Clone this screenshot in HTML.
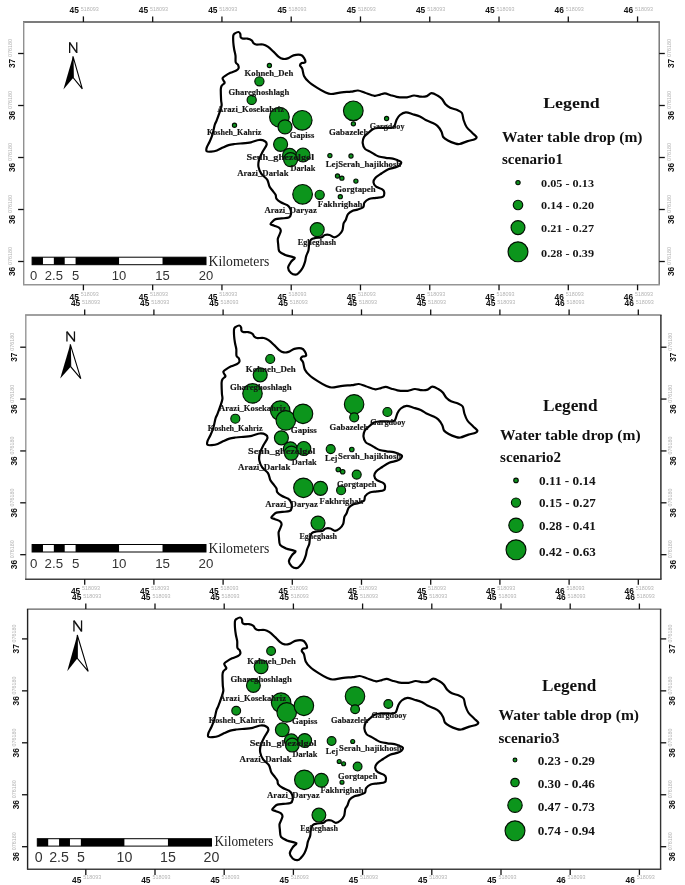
<!DOCTYPE html>
<html><head><meta charset="utf-8"><title>Water table drop scenarios</title>
<style>
html,body{margin:0;padding:0;background:#fff;}
body{width:685px;height:885px;overflow:hidden;}
svg{display:block;filter:blur(0.35px);}
.cl{font-family:"Liberation Sans",sans-serif;font-weight:bold;font-size:8.4px;fill:#111;}
.cg{font-family:"Liberation Sans",sans-serif;font-size:5.4px;fill:#b4b4b4;}
.nn{font-family:"Liberation Sans",sans-serif;font-size:14.4px;fill:#000;}
.sbl{font-family:"Liberation Sans",sans-serif;font-size:13px;fill:#333;}
.km{font-family:"Liberation Serif",serif;font-size:13.7px;fill:#222;}
.ml{font-family:"Liberation Serif",serif;font-weight:bold;font-size:8.6px;fill:#151515;stroke:#151515;stroke-width:0.15px;}
.lg1{font-family:"Liberation Serif",serif;font-weight:bold;font-size:16px;fill:#111;}
.lg2{font-family:"Liberation Serif",serif;font-weight:bold;font-size:14px;fill:#111;}
.lg3{font-family:"Liberation Serif",serif;font-weight:bold;font-size:11.4px;fill:#151515;}
</style></head><body>
<svg width="685" height="885" viewBox="0 0 685 885">
<rect width="685" height="885" fill="#fff"/>
<line x1="23" y1="22" x2="659.9" y2="22" stroke="#505050" stroke-width="1.4"/>
<line x1="23.7" y1="22" x2="23.7" y2="284.7" stroke="#909090" stroke-width="1.4"/>
<line x1="659.2" y1="22" x2="659.2" y2="284.7" stroke="#707070" stroke-width="1.4"/>
<line x1="23" y1="284.7" x2="659.9" y2="284.7" stroke="#959595" stroke-width="1.4"/>
<line x1="83.4" y1="16.4" x2="83.4" y2="22" stroke="#111" stroke-width="1.3"/>
<line x1="83.4" y1="284.7" x2="83.4" y2="290.3" stroke="#111" stroke-width="1.3"/>
<text x="69.6" y="13.3" class="cl">45</text>
<text x="80.8" y="10.8" class="cg">518093</text>
<text x="69.6" y="300" class="cl">45</text>
<text x="80.8" y="296.1" class="cg">518093</text>
<line x1="152.67" y1="16.4" x2="152.67" y2="22" stroke="#111" stroke-width="1.3"/>
<line x1="152.67" y1="284.7" x2="152.67" y2="290.3" stroke="#111" stroke-width="1.3"/>
<text x="138.87" y="13.3" class="cl">45</text>
<text x="150.07" y="10.8" class="cg">518093</text>
<text x="138.87" y="300" class="cl">45</text>
<text x="150.07" y="296.1" class="cg">518093</text>
<line x1="221.94" y1="16.4" x2="221.94" y2="22" stroke="#111" stroke-width="1.3"/>
<line x1="221.94" y1="284.7" x2="221.94" y2="290.3" stroke="#111" stroke-width="1.3"/>
<text x="208.14" y="13.3" class="cl">45</text>
<text x="219.34" y="10.8" class="cg">518093</text>
<text x="208.14" y="300" class="cl">45</text>
<text x="219.34" y="296.1" class="cg">518093</text>
<line x1="291.21" y1="16.4" x2="291.21" y2="22" stroke="#111" stroke-width="1.3"/>
<line x1="291.21" y1="284.7" x2="291.21" y2="290.3" stroke="#111" stroke-width="1.3"/>
<text x="277.41" y="13.3" class="cl">45</text>
<text x="288.61" y="10.8" class="cg">518093</text>
<text x="277.41" y="300" class="cl">45</text>
<text x="288.61" y="296.1" class="cg">518093</text>
<line x1="360.48" y1="16.4" x2="360.48" y2="22" stroke="#111" stroke-width="1.3"/>
<line x1="360.48" y1="284.7" x2="360.48" y2="290.3" stroke="#111" stroke-width="1.3"/>
<text x="346.68" y="13.3" class="cl">45</text>
<text x="357.88" y="10.8" class="cg">518093</text>
<text x="346.68" y="300" class="cl">45</text>
<text x="357.88" y="296.1" class="cg">518093</text>
<line x1="429.75" y1="16.4" x2="429.75" y2="22" stroke="#111" stroke-width="1.3"/>
<line x1="429.75" y1="284.7" x2="429.75" y2="290.3" stroke="#111" stroke-width="1.3"/>
<text x="415.95" y="13.3" class="cl">45</text>
<text x="427.15" y="10.8" class="cg">518093</text>
<text x="415.95" y="300" class="cl">45</text>
<text x="427.15" y="296.1" class="cg">518093</text>
<line x1="499.02" y1="16.4" x2="499.02" y2="22" stroke="#111" stroke-width="1.3"/>
<line x1="499.02" y1="284.7" x2="499.02" y2="290.3" stroke="#111" stroke-width="1.3"/>
<text x="485.22" y="13.3" class="cl">45</text>
<text x="496.42" y="10.8" class="cg">518093</text>
<text x="485.22" y="300" class="cl">45</text>
<text x="496.42" y="296.1" class="cg">518093</text>
<line x1="568.29" y1="16.4" x2="568.29" y2="22" stroke="#111" stroke-width="1.3"/>
<line x1="568.29" y1="284.7" x2="568.29" y2="290.3" stroke="#111" stroke-width="1.3"/>
<text x="554.49" y="13.3" class="cl">46</text>
<text x="565.69" y="10.8" class="cg">518093</text>
<text x="554.49" y="300" class="cl">46</text>
<text x="565.69" y="296.1" class="cg">518093</text>
<line x1="637.56" y1="16.4" x2="637.56" y2="22" stroke="#111" stroke-width="1.3"/>
<line x1="637.56" y1="284.7" x2="637.56" y2="290.3" stroke="#111" stroke-width="1.3"/>
<text x="623.76" y="13.3" class="cl">46</text>
<text x="634.96" y="10.8" class="cg">518093</text>
<text x="623.76" y="300" class="cl">46</text>
<text x="634.96" y="296.1" class="cg">518093</text>
<line x1="18.1" y1="53.5" x2="23.7" y2="53.5" stroke="#111" stroke-width="1.3"/>
<line x1="659.2" y1="53.5" x2="664.8" y2="53.5" stroke="#111" stroke-width="1.3"/>
<g transform="translate(15.3,53.5) rotate(-90)"><text x="-14.6" y="0" class="cl">37</text><text x="-3.6" y="-3.2" class="cg">076180</text></g>
<g transform="translate(673.8,53.5) rotate(-90)"><text x="-14.6" y="0" class="cl">37</text><text x="-3.6" y="-3.2" class="cg">076180</text></g>
<line x1="18.1" y1="105.5" x2="23.7" y2="105.5" stroke="#111" stroke-width="1.3"/>
<line x1="659.2" y1="105.5" x2="664.8" y2="105.5" stroke="#111" stroke-width="1.3"/>
<g transform="translate(15.3,105.5) rotate(-90)"><text x="-14.6" y="0" class="cl">36</text><text x="-3.6" y="-3.2" class="cg">076180</text></g>
<g transform="translate(673.8,105.5) rotate(-90)"><text x="-14.6" y="0" class="cl">36</text><text x="-3.6" y="-3.2" class="cg">076180</text></g>
<line x1="18.1" y1="157.5" x2="23.7" y2="157.5" stroke="#111" stroke-width="1.3"/>
<line x1="659.2" y1="157.5" x2="664.8" y2="157.5" stroke="#111" stroke-width="1.3"/>
<g transform="translate(15.3,157.5) rotate(-90)"><text x="-14.6" y="0" class="cl">36</text><text x="-3.6" y="-3.2" class="cg">076180</text></g>
<g transform="translate(673.8,157.5) rotate(-90)"><text x="-14.6" y="0" class="cl">36</text><text x="-3.6" y="-3.2" class="cg">076180</text></g>
<line x1="18.1" y1="209.5" x2="23.7" y2="209.5" stroke="#111" stroke-width="1.3"/>
<line x1="659.2" y1="209.5" x2="664.8" y2="209.5" stroke="#111" stroke-width="1.3"/>
<g transform="translate(15.3,209.5) rotate(-90)"><text x="-14.6" y="0" class="cl">36</text><text x="-3.6" y="-3.2" class="cg">076180</text></g>
<g transform="translate(673.8,209.5) rotate(-90)"><text x="-14.6" y="0" class="cl">36</text><text x="-3.6" y="-3.2" class="cg">076180</text></g>
<line x1="18.1" y1="261.5" x2="23.7" y2="261.5" stroke="#111" stroke-width="1.3"/>
<line x1="659.2" y1="261.5" x2="664.8" y2="261.5" stroke="#111" stroke-width="1.3"/>
<g transform="translate(15.3,261.5) rotate(-90)"><text x="-14.6" y="0" class="cl">36</text><text x="-3.6" y="-3.2" class="cg">076180</text></g>
<g transform="translate(673.8,261.5) rotate(-90)"><text x="-14.6" y="0" class="cl">36</text><text x="-3.6" y="-3.2" class="cg">076180</text></g>
<g stroke="#111" stroke-width="1.3" stroke-linecap="butt" fill="none">
<line x1="69.65" y1="42.3" x2="69.65" y2="52.9"/>
<line x1="76.75" y1="42.3" x2="76.75" y2="52.9"/>
<line x1="69.65" y1="42.6" x2="76.75" y2="52.6" stroke-width="1.5"/>
</g>
<path d="M73,56.3 L63.4,89.6 L73.3,77.8 Z" fill="#000"/>
<path d="M73,56.3 L82.3,88.9 L73.3,77.8 Z" fill="#fff" stroke="#000" stroke-width="1.1"/>
<rect x="32.1" y="257.2" width="173.9" height="7.5" fill="#fff" stroke="#000" stroke-width="1"/>
<rect x="32.1" y="257.2" width="10.87" height="7.5" fill="#000"/>
<rect x="53.84" y="257.2" width="10.87" height="7.5" fill="#000"/>
<rect x="75.58" y="257.2" width="43.48" height="7.5" fill="#000"/>
<rect x="162.53" y="257.2" width="43.48" height="7.5" fill="#000"/>
<text x="33.6" y="279.9" class="sbl" text-anchor="middle" style="font-size:13px">0</text>
<text x="53.84" y="279.9" class="sbl" text-anchor="middle" style="font-size:13px">2.5</text>
<text x="75.58" y="279.9" class="sbl" text-anchor="middle" style="font-size:13px">5</text>
<text x="119.05" y="279.9" class="sbl" text-anchor="middle" style="font-size:13px">10</text>
<text x="162.53" y="279.9" class="sbl" text-anchor="middle" style="font-size:13px">15</text>
<text x="206" y="279.9" class="sbl" text-anchor="middle" style="font-size:13px">20</text>
<text x="208.6" y="265.6" class="km" textLength="60.7" lengthAdjust="spacingAndGlyphs">Kilometers</text>
<path d="M238.5,32 C239.35,32.08 239.95,32.95 240.3,33.8 C240.65,34.65 240.28,36.53 240.7,37.3 C241.12,38.07 241.84,38.39 242.9,38.6 C243.96,38.81 245.89,38.33 247.3,38.6 C248.71,38.87 250.72,39.6 251.7,40.3 C252.68,41 252.71,42.33 253.4,43 C254.09,43.67 254.46,44.26 256,44.5 C257.54,44.74 261.11,44.15 263,44.5 C264.89,44.85 266.09,45.52 267.8,46.7 C269.51,47.88 272,50.32 273.7,51.9 C275.4,53.48 276.91,55.48 278.4,56.6 C279.89,57.72 281.51,58.61 283,58.9 C284.49,59.19 286.02,58.96 287.7,58.4 C289.38,57.84 291.45,55.96 293.5,55.4 C295.55,54.84 298.82,54.52 300.5,54.9 C302.18,55.28 303.25,56.6 304,57.8 C304.75,59 305.57,61.57 305.2,62.4 C304.83,63.23 302.53,62.52 301.7,63 C300.87,63.48 299.9,64.46 300,65.4 C300.1,66.34 301.66,67.22 302.3,68.9 C302.94,70.58 302.98,73.85 304,75.9 C305.02,77.95 306.64,79.83 308.7,81.7 C310.76,83.57 314.28,85.92 316.9,87.6 C319.52,89.28 322.86,91.18 325.1,92.2 C327.34,93.22 328.24,93.98 330.9,94 C333.56,94.02 338.48,92.67 341.7,92.3 C344.92,91.93 348.39,91.99 351,91.7 C353.61,91.41 355.76,90.32 358,90.5 C360.24,90.68 362.38,91.95 365,92.8 C367.62,93.65 371.97,95.51 374.4,95.8 C376.83,96.09 378.52,94.98 380.2,94.6 C381.88,94.22 383.22,93.3 384.9,93.4 C386.58,93.5 388.83,94.64 390.7,95.2 C392.57,95.76 395.11,96.56 396.6,96.9 C398.09,97.24 398.34,97.24 400,97.3 C401.66,97.36 404.76,97.59 407,97.3 C409.24,97.01 411.76,95.6 414,95.5 C416.24,95.4 418.94,96.6 421,96.7 C423.06,96.8 425.22,96.66 426.9,96.1 C428.58,95.54 429.82,93.3 431.5,93.2 C433.18,93.1 435.72,94.57 437.4,95.5 C439.08,96.43 440.7,97.59 442,99 C443.3,100.41 444.19,102.89 445.5,104.3 C446.81,105.71 448.33,106.87 450.2,107.8 C452.07,108.73 455.33,109.27 457.2,110.1 C459.07,110.93 460.88,111.42 461.9,113 C462.92,114.58 462.85,117.76 463.6,120 C464.35,122.24 465.19,124.94 466.6,127 C468.01,129.06 470.82,131.3 472.4,132.9 C473.98,134.5 476.13,135.98 476.5,137 C476.87,138.02 476.11,138.64 474.7,139.3 C473.29,139.96 470.12,140.35 467.7,141.1 C465.28,141.85 461.65,143.63 459.6,144 C457.55,144.37 456.77,143.96 454.9,143.4 C453.03,142.84 449.77,141.52 447.9,140.5 C446.03,139.48 444.22,138.41 443.2,137 C442.18,135.59 442.43,133.48 441.5,131.7 C440.57,129.92 439,127.39 437.4,125.9 C435.8,124.41 433.37,123.34 431.5,122.4 C429.63,121.46 427.56,120.94 425.7,120 C423.84,119.06 421.96,117.43 419.9,116.5 C417.84,115.57 415.06,114.86 412.8,114.2 C410.54,113.54 407.85,112.27 405.8,112.4 C403.75,112.53 401.47,113.83 400,115 C398.53,116.17 397.53,117.83 396.6,119.7 C395.67,121.57 395.14,125.39 394.2,126.7 C393.26,128.01 392.19,127.71 390.7,127.9 C389.21,128.09 386.77,127.9 384.9,127.9 C383.03,127.9 380.87,127.72 379,127.9 C377.13,128.08 375.06,128.07 373.2,129 C371.34,129.93 368.89,132.39 367.4,133.7 C365.91,135.01 364.65,135.7 363.9,137.2 C363.15,138.7 362.52,141.23 362.7,143.1 C362.88,144.97 363.83,147.54 365,148.9 C366.17,150.26 368.5,150.74 370,151.6 C371.5,152.46 372.99,153.52 374.4,154.3 C375.81,155.08 376.98,155.94 378.8,156.5 C380.62,157.06 383.56,157.46 385.8,157.8 C388.04,158.14 390.85,158.18 392.8,158.6 C394.75,159.02 396.67,159.84 398,160.4 C399.33,160.96 400.81,161.33 401.1,162.1 C401.39,162.87 400.71,164.35 399.8,165.2 C398.89,166.05 397.22,166.76 395.4,167.4 C393.58,168.04 390.64,168.22 388.4,169.2 C386.16,170.18 383.5,172.11 381.4,173.5 C379.3,174.89 376.56,176.49 375.3,177.9 C374.04,179.31 373.37,180.89 373.5,182.3 C373.63,183.71 374.69,185.58 376.1,186.7 C377.51,187.82 381,188.45 382.3,189.3 C383.6,190.15 384.07,190.82 384.2,192 C384.33,193.18 384.41,195.76 383.1,196.7 C381.79,197.64 378.26,197.53 376,197.9 C373.74,198.27 370.86,198.25 369,199 C367.14,199.75 365.33,201.29 364.4,202.6 C363.47,203.91 364.32,206.08 363.2,207.2 C362.08,208.32 359.08,209.04 357.4,209.6 C355.72,210.16 354.2,209.96 352.7,210.7 C351.2,211.44 349.12,212.71 348,214.2 C346.88,215.69 346.4,218.53 345.7,220 C345,221.47 344.13,221.74 343.6,223.4 C343.07,225.06 343.15,228.54 342.4,230.4 C341.65,232.26 340.21,233.88 338.9,235 C337.59,236.12 335.69,237.4 334.2,237.4 C332.71,237.4 331.09,235.38 329.6,235 C328.11,234.62 326.21,234.62 324.9,235 C323.59,235.38 322.9,236.92 321.4,237.4 C319.9,237.88 317.18,237.63 315.5,238 C313.82,238.37 311.92,238.68 310.9,239.7 C309.88,240.72 309.48,242.72 309.1,244.4 C308.72,246.08 308.96,248.33 308.5,250.2 C308.04,252.07 306.76,254.23 306.2,256.1 C305.64,257.97 305.56,260.04 305,261.9 C304.44,263.76 303.63,266.02 302.7,267.7 C301.77,269.38 300.32,271.28 299.2,272.4 C298.08,273.52 297.01,274.6 295.7,274.7 C294.39,274.8 292.22,274.12 291,273 C289.78,271.88 288.1,269.48 288.1,267.7 C288.1,265.92 289.98,263.39 291,261.9 C292.02,260.41 294.12,259.15 294.5,258.4 C294.88,257.65 294.89,257.76 293.4,257.2 C291.91,256.64 287.46,255.83 285.2,254.9 C282.94,253.97 280.42,253.08 279.3,251.4 C278.18,249.72 278.44,246.42 278.2,244.4 C277.96,242.38 277.62,240.29 277.8,238.8 C277.98,237.31 278.82,236.38 279.3,235.1 C279.78,233.82 280.8,231.97 280.8,230.8 C280.8,229.63 280.36,228.62 279.3,227.8 C278.24,226.98 275.61,226.28 274.2,225.7 C272.79,225.12 270.74,224.9 270.5,224.2 C270.26,223.5 271.87,222.12 272.7,221.3 C273.53,220.48 274.29,219.56 275.7,219.1 C277.11,218.64 279.4,218.64 281.5,218.4 C283.6,218.16 287.28,218.3 288.8,217.6 C290.32,216.9 290.76,215.39 291,214 C291.24,212.61 290.89,210.31 290.3,208.9 C289.71,207.49 288.82,206.26 287.3,205.2 C285.78,204.14 282.54,203.36 280.8,202.3 C279.06,201.24 277.22,199.77 276.4,198.6 C275.58,197.43 276.23,196.15 275.7,195 C275.17,193.85 274.08,192.73 273.1,191.4 C272.12,190.07 270.54,188.57 269.6,186.7 C268.66,184.83 268.51,181.75 267.2,179.7 C265.89,177.65 262.79,175.95 261.4,173.9 C260.01,171.85 258.88,169.14 258.5,166.9 C258.12,164.66 258.34,162.33 259,159.9 C259.66,157.47 261.38,154.13 262.6,151.7 C263.82,149.27 266.23,146.38 266.6,144.7 C266.97,143.02 266.12,141.95 264.9,141.2 C263.68,140.45 261.24,139.82 259,140 C256.76,140.18 253.88,141.74 250.9,142.3 C247.92,142.86 243.04,143.23 240.4,143.5 C237.76,143.77 236.29,143.74 234.4,144 C232.51,144.26 230.47,144.52 228.6,145.1 C226.73,145.68 224.57,146.74 222.7,147.6 C220.83,148.46 218.76,149.86 216.9,150.5 C215.04,151.14 212.73,151.47 211.1,151.6 C209.47,151.73 207.4,151.94 206.7,151.3 C206,150.66 206.24,149.12 206.7,147.6 C207.16,146.08 208.67,143.9 209.6,141.8 C210.53,139.7 211.68,137.19 212.5,134.5 C213.32,131.81 214.06,127.18 214.7,125 C215.34,122.82 215.73,122.87 216.5,120.9 C217.27,118.93 218.68,115.16 219.5,112.7 C220.32,110.24 221.34,107.53 221.6,105.5 C221.86,103.47 221.23,102.61 221.1,100 C220.97,97.39 220.7,91.49 220.8,89.2 C220.9,86.91 221.09,86.72 221.7,85.7 C222.31,84.68 224.33,83.65 224.6,82.8 C224.87,81.95 223.72,81.15 223.4,80.4 C223.08,79.65 222.31,78.84 222.6,78.1 C222.89,77.36 223.95,76.65 225.2,75.8 C226.45,74.95 228.62,73.65 230.4,72.8 C232.18,71.95 234.99,71.24 236.3,70.5 C237.61,69.76 238.33,69.13 238.6,68.2 C238.87,67.27 238.46,65.64 238,64.7 C237.54,63.76 236.1,63.76 235.7,62.3 C235.3,60.84 235.74,57.65 235.5,55.6 C235.26,53.55 234.55,51.6 234.2,49.5 C233.85,47.4 233.44,44.74 233.3,42.5 C233.16,40.26 233.03,36.97 233.3,35.5 C233.57,34.03 234.17,33.86 235,33.3 C235.83,32.74 237.65,31.92 238.5,32Z" fill="none" stroke="#000" stroke-width="2.2" stroke-linejoin="round"/>
<circle cx="269.4" cy="65.5" r="2.1" fill="#0c951c" stroke="#031003" stroke-width="1.15"/>
<circle cx="259.4" cy="81.3" r="4.6" fill="#0c951c" stroke="#031003" stroke-width="1.15"/>
<circle cx="251.7" cy="99.9" r="4.6" fill="#0c951c" stroke="#031003" stroke-width="1.15"/>
<circle cx="234.5" cy="125.2" r="2.1" fill="#0c951c" stroke="#031003" stroke-width="1.15"/>
<circle cx="279.4" cy="117.1" r="9.85" fill="#0c951c" stroke="#031003" stroke-width="1.15"/>
<circle cx="285" cy="126.9" r="7" fill="#0c951c" stroke="#031003" stroke-width="1.15"/>
<circle cx="302.2" cy="120.3" r="9.85" fill="#0c951c" stroke="#031003" stroke-width="1.15"/>
<circle cx="280.6" cy="144.3" r="7" fill="#0c951c" stroke="#031003" stroke-width="1.15"/>
<circle cx="289.6" cy="155.3" r="7" fill="#0c951c" stroke="#031003" stroke-width="1.15"/>
<circle cx="290.6" cy="159.6" r="7" fill="#0c951c" stroke="#031003" stroke-width="1.15"/>
<circle cx="303" cy="155" r="7" fill="#0c951c" stroke="#031003" stroke-width="1.15"/>
<circle cx="353.3" cy="110.8" r="9.85" fill="#0c951c" stroke="#031003" stroke-width="1.15"/>
<circle cx="353.4" cy="123.8" r="2.1" fill="#0c951c" stroke="#031003" stroke-width="1.15"/>
<circle cx="386.6" cy="118.5" r="2.1" fill="#0c951c" stroke="#031003" stroke-width="1.15"/>
<circle cx="329.9" cy="155.6" r="2.1" fill="#0c951c" stroke="#031003" stroke-width="1.15"/>
<circle cx="351" cy="156" r="2.1" fill="#0c951c" stroke="#031003" stroke-width="1.15"/>
<circle cx="337.5" cy="176" r="2.1" fill="#0c951c" stroke="#031003" stroke-width="1.15"/>
<circle cx="341.9" cy="178.2" r="2.1" fill="#0c951c" stroke="#031003" stroke-width="1.15"/>
<circle cx="355.9" cy="181.1" r="2.1" fill="#0c951c" stroke="#031003" stroke-width="1.15"/>
<circle cx="302.6" cy="194.3" r="9.85" fill="#0c951c" stroke="#031003" stroke-width="1.15"/>
<circle cx="319.7" cy="194.8" r="4.6" fill="#0c951c" stroke="#031003" stroke-width="1.15"/>
<circle cx="340.3" cy="196.7" r="2.1" fill="#0c951c" stroke="#031003" stroke-width="1.15"/>
<circle cx="317.2" cy="229.6" r="7" fill="#0c951c" stroke="#031003" stroke-width="1.15"/>
<text x="244.6" y="75.8" class="ml" textLength="48.7" lengthAdjust="spacingAndGlyphs">Kohneh_Deh</text>
<text x="228.5" y="94.5" class="ml" textLength="60.7" lengthAdjust="spacingAndGlyphs">Ghareghoshlagh</text>
<text x="217.3" y="112.4" class="ml" textLength="66.7" lengthAdjust="spacingAndGlyphs">Arazi_Kosekahriz</text>
<text x="207" y="135" class="ml" textLength="54.4" lengthAdjust="spacingAndGlyphs">Kosheh_Kahriz</text>
<text x="289.7" y="138.4" class="ml" textLength="24.5" lengthAdjust="spacingAndGlyphs">Gapiss</text>
<text x="328.9" y="134.7" class="ml" textLength="39.5" lengthAdjust="spacingAndGlyphs">Gabazeleh</text>
<text x="369.7" y="129.3" class="ml" textLength="34.8" lengthAdjust="spacingAndGlyphs">Gargdooy</text>
<text x="246.4" y="160.2" class="ml" textLength="67.7" lengthAdjust="spacingAndGlyphs">Seuh_ghezelgol</text>
<text x="325.7" y="166.6" class="ml" textLength="75.5" lengthAdjust="spacingAndGlyphs">LejSerah_hajikhosh</text>
<text x="290.4" y="171.1" class="ml" textLength="25" lengthAdjust="spacingAndGlyphs">Darlak</text>
<text x="237.2" y="176" class="ml" textLength="51.3" lengthAdjust="spacingAndGlyphs">Arazi_Darlak</text>
<text x="335.3" y="191.9" class="ml" textLength="40.3" lengthAdjust="spacingAndGlyphs">Gorgtapeh</text>
<text x="317.8" y="207" class="ml" textLength="44.7" lengthAdjust="spacingAndGlyphs">Fakhrighah</text>
<text x="264.4" y="213.2" class="ml" textLength="52.5" lengthAdjust="spacingAndGlyphs">Arazi_Daryaz</text>
<text x="297.7" y="244.8" class="ml" textLength="38.5" lengthAdjust="spacingAndGlyphs">Egheghash</text>
<text x="543.2" y="107.5" class="lg1" style="font-size:15.6px" textLength="56.6" lengthAdjust="spacingAndGlyphs">Legend</text>
<text x="502" y="141.8" class="lg2" textLength="140.5" lengthAdjust="spacingAndGlyphs">Water table drop (m)</text>
<text x="502" y="164.4" class="lg2" textLength="61" lengthAdjust="spacingAndGlyphs">scenario1</text>
<circle cx="518" cy="182.6" r="2.15" fill="#0c951c" stroke="#031003" stroke-width="1.15"/>
<text x="541.1" y="186.7" class="lg3" style="font-size:11.2px" textLength="52.9" lengthAdjust="spacingAndGlyphs">0.05 - 0.13</text>
<circle cx="518" cy="205" r="4.75" fill="#0c951c" stroke="#031003" stroke-width="1.15"/>
<text x="541.1" y="209.2" class="lg3" style="font-size:11.2px" textLength="52.9" lengthAdjust="spacingAndGlyphs">0.14 - 0.20</text>
<circle cx="518" cy="227.6" r="6.95" fill="#0c951c" stroke="#031003" stroke-width="1.15"/>
<text x="541.1" y="232" class="lg3" style="font-size:11.2px" textLength="52.9" lengthAdjust="spacingAndGlyphs">0.21 - 0.27</text>
<circle cx="518" cy="251.8" r="9.95" fill="#0c951c" stroke="#031003" stroke-width="1.15"/>
<text x="541.1" y="256.6" class="lg3" style="font-size:11.2px" textLength="52.9" lengthAdjust="spacingAndGlyphs">0.28 - 0.39</text>
<line x1="25.1" y1="315" x2="661.6" y2="315" stroke="#808080" stroke-width="1.4"/>
<line x1="25.8" y1="315" x2="25.8" y2="579.2" stroke="#959595" stroke-width="1.4"/>
<line x1="660.9" y1="315" x2="660.9" y2="579.2" stroke="#222222" stroke-width="1.4"/>
<line x1="25.1" y1="579.2" x2="661.6" y2="579.2" stroke="#404040" stroke-width="1.4"/>
<line x1="84.7" y1="309.4" x2="84.7" y2="315" stroke="#111" stroke-width="1.3"/>
<line x1="84.7" y1="579.2" x2="84.7" y2="584.8" stroke="#111" stroke-width="1.3"/>
<text x="70.9" y="306.3" class="cl">45</text>
<text x="82.1" y="303.8" class="cg">518093</text>
<text x="70.9" y="593.6" class="cl">45</text>
<text x="82.1" y="589.7" class="cg">518093</text>
<line x1="153.9" y1="309.4" x2="153.9" y2="315" stroke="#111" stroke-width="1.3"/>
<line x1="153.9" y1="579.2" x2="153.9" y2="584.8" stroke="#111" stroke-width="1.3"/>
<text x="140.1" y="306.3" class="cl">45</text>
<text x="151.3" y="303.8" class="cg">518093</text>
<text x="140.1" y="593.6" class="cl">45</text>
<text x="151.3" y="589.7" class="cg">518093</text>
<line x1="223.1" y1="309.4" x2="223.1" y2="315" stroke="#111" stroke-width="1.3"/>
<line x1="223.1" y1="579.2" x2="223.1" y2="584.8" stroke="#111" stroke-width="1.3"/>
<text x="209.3" y="306.3" class="cl">45</text>
<text x="220.5" y="303.8" class="cg">518093</text>
<text x="209.3" y="593.6" class="cl">45</text>
<text x="220.5" y="589.7" class="cg">518093</text>
<line x1="292.3" y1="309.4" x2="292.3" y2="315" stroke="#111" stroke-width="1.3"/>
<line x1="292.3" y1="579.2" x2="292.3" y2="584.8" stroke="#111" stroke-width="1.3"/>
<text x="278.5" y="306.3" class="cl">45</text>
<text x="289.7" y="303.8" class="cg">518093</text>
<text x="278.5" y="593.6" class="cl">45</text>
<text x="289.7" y="589.7" class="cg">518093</text>
<line x1="361.5" y1="309.4" x2="361.5" y2="315" stroke="#111" stroke-width="1.3"/>
<line x1="361.5" y1="579.2" x2="361.5" y2="584.8" stroke="#111" stroke-width="1.3"/>
<text x="347.7" y="306.3" class="cl">45</text>
<text x="358.9" y="303.8" class="cg">518093</text>
<text x="347.7" y="593.6" class="cl">45</text>
<text x="358.9" y="589.7" class="cg">518093</text>
<line x1="430.7" y1="309.4" x2="430.7" y2="315" stroke="#111" stroke-width="1.3"/>
<line x1="430.7" y1="579.2" x2="430.7" y2="584.8" stroke="#111" stroke-width="1.3"/>
<text x="416.9" y="306.3" class="cl">45</text>
<text x="428.1" y="303.8" class="cg">518093</text>
<text x="416.9" y="593.6" class="cl">45</text>
<text x="428.1" y="589.7" class="cg">518093</text>
<line x1="499.9" y1="309.4" x2="499.9" y2="315" stroke="#111" stroke-width="1.3"/>
<line x1="499.9" y1="579.2" x2="499.9" y2="584.8" stroke="#111" stroke-width="1.3"/>
<text x="486.1" y="306.3" class="cl">45</text>
<text x="497.3" y="303.8" class="cg">518093</text>
<text x="486.1" y="593.6" class="cl">45</text>
<text x="497.3" y="589.7" class="cg">518093</text>
<line x1="569.1" y1="309.4" x2="569.1" y2="315" stroke="#111" stroke-width="1.3"/>
<line x1="569.1" y1="579.2" x2="569.1" y2="584.8" stroke="#111" stroke-width="1.3"/>
<text x="555.3" y="306.3" class="cl">46</text>
<text x="566.5" y="303.8" class="cg">518093</text>
<text x="555.3" y="593.6" class="cl">46</text>
<text x="566.5" y="589.7" class="cg">518093</text>
<line x1="638.3" y1="309.4" x2="638.3" y2="315" stroke="#111" stroke-width="1.3"/>
<line x1="638.3" y1="579.2" x2="638.3" y2="584.8" stroke="#111" stroke-width="1.3"/>
<text x="624.5" y="306.3" class="cl">46</text>
<text x="635.7" y="303.8" class="cg">518093</text>
<text x="624.5" y="593.6" class="cl">46</text>
<text x="635.7" y="589.7" class="cg">518093</text>
<line x1="20.2" y1="347.2" x2="25.8" y2="347.2" stroke="#111" stroke-width="1.3"/>
<line x1="660.9" y1="347.2" x2="666.5" y2="347.2" stroke="#111" stroke-width="1.3"/>
<g transform="translate(17.4,347.2) rotate(-90)"><text x="-14.6" y="0" class="cl">37</text><text x="-3.6" y="-3.2" class="cg">076180</text></g>
<g transform="translate(675.5,347.2) rotate(-90)"><text x="-14.6" y="0" class="cl">37</text><text x="-3.6" y="-3.2" class="cg">076180</text></g>
<line x1="20.2" y1="399.07" x2="25.8" y2="399.07" stroke="#111" stroke-width="1.3"/>
<line x1="660.9" y1="399.07" x2="666.5" y2="399.07" stroke="#111" stroke-width="1.3"/>
<g transform="translate(17.4,399.07) rotate(-90)"><text x="-14.6" y="0" class="cl">36</text><text x="-3.6" y="-3.2" class="cg">076180</text></g>
<g transform="translate(675.5,399.07) rotate(-90)"><text x="-14.6" y="0" class="cl">36</text><text x="-3.6" y="-3.2" class="cg">076180</text></g>
<line x1="20.2" y1="450.94" x2="25.8" y2="450.94" stroke="#111" stroke-width="1.3"/>
<line x1="660.9" y1="450.94" x2="666.5" y2="450.94" stroke="#111" stroke-width="1.3"/>
<g transform="translate(17.4,450.94) rotate(-90)"><text x="-14.6" y="0" class="cl">36</text><text x="-3.6" y="-3.2" class="cg">076180</text></g>
<g transform="translate(675.5,450.94) rotate(-90)"><text x="-14.6" y="0" class="cl">36</text><text x="-3.6" y="-3.2" class="cg">076180</text></g>
<line x1="20.2" y1="502.81" x2="25.8" y2="502.81" stroke="#111" stroke-width="1.3"/>
<line x1="660.9" y1="502.81" x2="666.5" y2="502.81" stroke="#111" stroke-width="1.3"/>
<g transform="translate(17.4,502.81) rotate(-90)"><text x="-14.6" y="0" class="cl">36</text><text x="-3.6" y="-3.2" class="cg">076180</text></g>
<g transform="translate(675.5,502.81) rotate(-90)"><text x="-14.6" y="0" class="cl">36</text><text x="-3.6" y="-3.2" class="cg">076180</text></g>
<line x1="20.2" y1="554.68" x2="25.8" y2="554.68" stroke="#111" stroke-width="1.3"/>
<line x1="660.9" y1="554.68" x2="666.5" y2="554.68" stroke="#111" stroke-width="1.3"/>
<g transform="translate(17.4,554.68) rotate(-90)"><text x="-14.6" y="0" class="cl">36</text><text x="-3.6" y="-3.2" class="cg">076180</text></g>
<g transform="translate(675.5,554.68) rotate(-90)"><text x="-14.6" y="0" class="cl">36</text><text x="-3.6" y="-3.2" class="cg">076180</text></g>
<g stroke="#111" stroke-width="1.3" stroke-linecap="butt" fill="none">
<line x1="66.95" y1="331.4" x2="66.95" y2="341.6"/>
<line x1="74.45" y1="331.4" x2="74.45" y2="341.6"/>
<line x1="66.95" y1="331.7" x2="74.45" y2="341.3" stroke-width="1.5"/>
</g>
<path d="M70.3,344.3 L60.2,378.6 L70.7,366.7 Z" fill="#000"/>
<path d="M70.3,344.3 L80.8,378.6 L70.7,366.7 Z" fill="#fff" stroke="#000" stroke-width="1.1"/>
<rect x="32.1" y="544.5" width="173.9" height="7.5" fill="#fff" stroke="#000" stroke-width="1"/>
<rect x="32.1" y="544.5" width="10.87" height="7.5" fill="#000"/>
<rect x="53.84" y="544.5" width="10.87" height="7.5" fill="#000"/>
<rect x="75.58" y="544.5" width="43.48" height="7.5" fill="#000"/>
<rect x="162.53" y="544.5" width="43.48" height="7.5" fill="#000"/>
<text x="33.6" y="567.6" class="sbl" text-anchor="middle" style="font-size:13.3px">0</text>
<text x="53.84" y="567.6" class="sbl" text-anchor="middle" style="font-size:13.3px">2.5</text>
<text x="75.58" y="567.6" class="sbl" text-anchor="middle" style="font-size:13.3px">5</text>
<text x="119.05" y="567.6" class="sbl" text-anchor="middle" style="font-size:13.3px">10</text>
<text x="162.53" y="567.6" class="sbl" text-anchor="middle" style="font-size:13.3px">15</text>
<text x="206" y="567.6" class="sbl" text-anchor="middle" style="font-size:13.3px">20</text>
<text x="208.6" y="552.8" class="km" textLength="60.7" lengthAdjust="spacingAndGlyphs">Kilometers</text>
<path d="M239.3,325.5 C240.15,325.58 240.75,326.45 241.1,327.3 C241.45,328.15 241.08,330.03 241.5,330.8 C241.92,331.57 242.64,331.89 243.7,332.1 C244.76,332.31 246.69,331.83 248.1,332.1 C249.51,332.37 251.52,333.1 252.5,333.8 C253.48,334.5 253.51,335.83 254.2,336.5 C254.89,337.17 255.26,337.76 256.8,338 C258.34,338.24 261.91,337.65 263.8,338 C265.69,338.35 266.89,339.02 268.6,340.2 C270.31,341.38 272.8,343.82 274.5,345.4 C276.2,346.98 277.71,348.98 279.2,350.1 C280.69,351.22 282.31,352.11 283.8,352.4 C285.29,352.69 286.82,352.46 288.5,351.9 C290.18,351.34 292.25,349.46 294.3,348.9 C296.35,348.34 299.62,348.02 301.3,348.4 C302.98,348.78 304.05,350.1 304.8,351.3 C305.55,352.5 306.37,355.07 306,355.9 C305.63,356.73 303.33,356.02 302.5,356.5 C301.67,356.98 300.7,357.96 300.8,358.9 C300.9,359.84 302.46,360.72 303.1,362.4 C303.74,364.08 303.78,367.35 304.8,369.4 C305.82,371.45 307.44,373.33 309.5,375.2 C311.56,377.07 315.08,379.42 317.7,381.1 C320.32,382.78 323.66,384.68 325.9,385.7 C328.14,386.72 329.04,387.48 331.7,387.5 C334.36,387.52 339.28,386.17 342.5,385.8 C345.72,385.43 349.19,385.49 351.8,385.2 C354.41,384.91 356.56,383.82 358.8,384 C361.04,384.18 363.18,385.45 365.8,386.3 C368.42,387.15 372.77,389.01 375.2,389.3 C377.63,389.59 379.32,388.48 381,388.1 C382.68,387.72 384.02,386.8 385.7,386.9 C387.38,387 389.63,388.14 391.5,388.7 C393.37,389.26 395.91,390.06 397.4,390.4 C398.89,390.74 399.14,390.74 400.8,390.8 C402.46,390.86 405.56,391.09 407.8,390.8 C410.04,390.51 412.56,389.1 414.8,389 C417.04,388.9 419.74,390.1 421.8,390.2 C423.86,390.3 426.02,390.16 427.7,389.6 C429.38,389.04 430.62,386.8 432.3,386.7 C433.98,386.6 436.52,388.07 438.2,389 C439.88,389.93 441.5,391.09 442.8,392.5 C444.1,393.91 444.99,396.39 446.3,397.8 C447.61,399.21 449.13,400.37 451,401.3 C452.87,402.23 456.13,402.77 458,403.6 C459.87,404.43 461.68,404.92 462.7,406.5 C463.72,408.08 463.65,411.26 464.4,413.5 C465.15,415.74 465.99,418.44 467.4,420.5 C468.81,422.56 471.62,424.8 473.2,426.4 C474.78,428 476.93,429.48 477.3,430.5 C477.67,431.52 476.91,432.14 475.5,432.8 C474.09,433.46 470.92,433.85 468.5,434.6 C466.08,435.35 462.45,437.13 460.4,437.5 C458.35,437.87 457.57,437.46 455.7,436.9 C453.83,436.34 450.57,435.02 448.7,434 C446.83,432.98 445.02,431.91 444,430.5 C442.98,429.09 443.23,426.98 442.3,425.2 C441.37,423.42 439.8,420.89 438.2,419.4 C436.6,417.91 434.17,416.84 432.3,415.9 C430.43,414.96 428.36,414.44 426.5,413.5 C424.64,412.56 422.76,410.93 420.7,410 C418.64,409.07 415.86,408.36 413.6,407.7 C411.34,407.04 408.65,405.77 406.6,405.9 C404.55,406.03 402.27,407.33 400.8,408.5 C399.33,409.67 398.33,411.33 397.4,413.2 C396.47,415.07 395.94,418.89 395,420.2 C394.06,421.51 392.99,421.21 391.5,421.4 C390.01,421.59 387.57,421.4 385.7,421.4 C383.83,421.4 381.67,421.22 379.8,421.4 C377.93,421.58 375.86,421.57 374,422.5 C372.14,423.43 369.69,425.89 368.2,427.2 C366.71,428.51 365.45,429.2 364.7,430.7 C363.95,432.2 363.32,434.73 363.5,436.6 C363.68,438.47 364.63,441.04 365.8,442.4 C366.97,443.76 369.3,444.24 370.8,445.1 C372.3,445.96 373.79,447.02 375.2,447.8 C376.61,448.58 377.78,449.44 379.6,450 C381.42,450.56 384.36,450.96 386.6,451.3 C388.84,451.64 391.65,451.68 393.6,452.1 C395.55,452.52 397.47,453.34 398.8,453.9 C400.13,454.46 401.61,454.83 401.9,455.6 C402.19,456.37 401.51,457.85 400.6,458.7 C399.69,459.55 398.02,460.26 396.2,460.9 C394.38,461.54 391.44,461.72 389.2,462.7 C386.96,463.68 384.3,465.61 382.2,467 C380.1,468.39 377.36,469.99 376.1,471.4 C374.84,472.81 374.17,474.39 374.3,475.8 C374.43,477.21 375.49,479.08 376.9,480.2 C378.31,481.32 381.8,481.95 383.1,482.8 C384.4,483.65 384.87,484.32 385,485.5 C385.13,486.68 385.21,489.26 383.9,490.2 C382.59,491.14 379.06,491.03 376.8,491.4 C374.54,491.77 371.66,491.75 369.8,492.5 C367.94,493.25 366.13,494.79 365.2,496.1 C364.27,497.41 365.12,499.58 364,500.7 C362.88,501.82 359.88,502.54 358.2,503.1 C356.52,503.66 355,503.46 353.5,504.2 C352,504.94 349.92,506.21 348.8,507.7 C347.68,509.19 347.2,512.03 346.5,513.5 C345.8,514.97 344.93,515.24 344.4,516.9 C343.87,518.56 343.95,522.04 343.2,523.9 C342.45,525.76 341.01,527.38 339.7,528.5 C338.39,529.62 336.49,530.9 335,530.9 C333.51,530.9 331.89,528.88 330.4,528.5 C328.91,528.12 327.01,528.12 325.7,528.5 C324.39,528.88 323.7,530.42 322.2,530.9 C320.7,531.38 317.98,531.13 316.3,531.5 C314.62,531.87 312.72,532.18 311.7,533.2 C310.68,534.22 310.28,536.22 309.9,537.9 C309.52,539.58 309.76,541.83 309.3,543.7 C308.84,545.57 307.56,547.73 307,549.6 C306.44,551.47 306.36,553.54 305.8,555.4 C305.24,557.26 304.43,559.52 303.5,561.2 C302.57,562.88 301.12,564.78 300,565.9 C298.88,567.02 297.81,568.1 296.5,568.2 C295.19,568.3 293.02,567.62 291.8,566.5 C290.58,565.38 288.9,562.98 288.9,561.2 C288.9,559.42 290.78,556.89 291.8,555.4 C292.82,553.91 294.92,552.65 295.3,551.9 C295.68,551.15 295.69,551.26 294.2,550.7 C292.71,550.14 288.26,549.33 286,548.4 C283.74,547.47 281.22,546.58 280.1,544.9 C278.98,543.22 279.24,539.92 279,537.9 C278.76,535.88 278.42,533.79 278.6,532.3 C278.78,530.81 279.62,529.88 280.1,528.6 C280.58,527.32 281.6,525.47 281.6,524.3 C281.6,523.13 281.16,522.12 280.1,521.3 C279.04,520.48 276.41,519.78 275,519.2 C273.59,518.62 271.54,518.4 271.3,517.7 C271.06,517 272.67,515.62 273.5,514.8 C274.33,513.98 275.09,513.06 276.5,512.6 C277.91,512.14 280.2,512.14 282.3,511.9 C284.4,511.66 288.08,511.8 289.6,511.1 C291.12,510.4 291.56,508.89 291.8,507.5 C292.04,506.11 291.69,503.81 291.1,502.4 C290.51,500.99 289.62,499.76 288.1,498.7 C286.58,497.64 283.34,496.86 281.6,495.8 C279.86,494.74 278.02,493.27 277.2,492.1 C276.38,490.93 277.03,489.65 276.5,488.5 C275.97,487.35 274.88,486.23 273.9,484.9 C272.92,483.57 271.34,482.07 270.4,480.2 C269.46,478.33 269.31,475.25 268,473.2 C266.69,471.15 263.59,469.45 262.2,467.4 C260.81,465.35 259.68,462.64 259.3,460.4 C258.92,458.16 259.14,455.83 259.8,453.4 C260.46,450.97 262.18,447.63 263.4,445.2 C264.62,442.77 267.03,439.88 267.4,438.2 C267.77,436.52 266.92,435.45 265.7,434.7 C264.48,433.95 262.04,433.32 259.8,433.5 C257.56,433.68 254.68,435.24 251.7,435.8 C248.72,436.36 243.84,436.73 241.2,437 C238.56,437.27 237.09,437.24 235.2,437.5 C233.31,437.76 231.27,438.02 229.4,438.6 C227.53,439.18 225.37,440.24 223.5,441.1 C221.63,441.96 219.56,443.36 217.7,444 C215.84,444.64 213.53,444.97 211.9,445.1 C210.27,445.23 208.2,445.44 207.5,444.8 C206.8,444.16 207.04,442.62 207.5,441.1 C207.96,439.58 209.47,437.4 210.4,435.3 C211.33,433.2 212.48,430.69 213.3,428 C214.12,425.31 214.86,420.68 215.5,418.5 C216.14,416.32 216.53,416.37 217.3,414.4 C218.07,412.43 219.48,408.66 220.3,406.2 C221.12,403.74 222.14,401.03 222.4,399 C222.66,396.97 222.03,396.11 221.9,393.5 C221.77,390.89 221.5,384.99 221.6,382.7 C221.7,380.41 221.89,380.22 222.5,379.2 C223.11,378.18 225.13,377.15 225.4,376.3 C225.67,375.45 224.52,374.65 224.2,373.9 C223.88,373.15 223.11,372.34 223.4,371.6 C223.69,370.86 224.75,370.15 226,369.3 C227.25,368.45 229.42,367.15 231.2,366.3 C232.98,365.45 235.79,364.74 237.1,364 C238.41,363.26 239.13,362.63 239.4,361.7 C239.67,360.77 239.26,359.14 238.8,358.2 C238.34,357.26 236.9,357.26 236.5,355.8 C236.1,354.34 236.54,351.15 236.3,349.1 C236.06,347.05 235.35,345.1 235,343 C234.65,340.9 234.24,338.24 234.1,336 C233.96,333.76 233.83,330.47 234.1,329 C234.37,327.53 234.97,327.36 235.8,326.8 C236.63,326.24 238.45,325.42 239.3,325.5Z" fill="none" stroke="#000" stroke-width="2.2" stroke-linejoin="round"/>
<circle cx="270.2" cy="359" r="4.5" fill="#0c951c" stroke="#031003" stroke-width="1.15"/>
<circle cx="260.2" cy="374.8" r="7" fill="#0c951c" stroke="#031003" stroke-width="1.15"/>
<circle cx="252.5" cy="393.4" r="9.75" fill="#0c951c" stroke="#031003" stroke-width="1.15"/>
<circle cx="235.3" cy="418.7" r="4.5" fill="#0c951c" stroke="#031003" stroke-width="1.15"/>
<circle cx="280.2" cy="410.6" r="9.75" fill="#0c951c" stroke="#031003" stroke-width="1.15"/>
<circle cx="285.8" cy="420.4" r="9.75" fill="#0c951c" stroke="#031003" stroke-width="1.15"/>
<circle cx="303" cy="413.8" r="9.75" fill="#0c951c" stroke="#031003" stroke-width="1.15"/>
<circle cx="281.4" cy="437.8" r="7" fill="#0c951c" stroke="#031003" stroke-width="1.15"/>
<circle cx="290.4" cy="448.8" r="7" fill="#0c951c" stroke="#031003" stroke-width="1.15"/>
<circle cx="291.4" cy="453.1" r="7" fill="#0c951c" stroke="#031003" stroke-width="1.15"/>
<circle cx="303.8" cy="448.5" r="7" fill="#0c951c" stroke="#031003" stroke-width="1.15"/>
<circle cx="354.1" cy="404.3" r="9.75" fill="#0c951c" stroke="#031003" stroke-width="1.15"/>
<circle cx="354.2" cy="417.3" r="4.5" fill="#0c951c" stroke="#031003" stroke-width="1.15"/>
<circle cx="387.4" cy="412" r="4.5" fill="#0c951c" stroke="#031003" stroke-width="1.15"/>
<circle cx="330.7" cy="449.1" r="4.5" fill="#0c951c" stroke="#031003" stroke-width="1.15"/>
<circle cx="351.8" cy="449.5" r="2.25" fill="#0c951c" stroke="#031003" stroke-width="1.15"/>
<circle cx="338.3" cy="469.5" r="2.25" fill="#0c951c" stroke="#031003" stroke-width="1.15"/>
<circle cx="342.7" cy="471.7" r="2.25" fill="#0c951c" stroke="#031003" stroke-width="1.15"/>
<circle cx="356.7" cy="474.6" r="4.5" fill="#0c951c" stroke="#031003" stroke-width="1.15"/>
<circle cx="303.4" cy="487.8" r="9.75" fill="#0c951c" stroke="#031003" stroke-width="1.15"/>
<circle cx="320.5" cy="488.3" r="7" fill="#0c951c" stroke="#031003" stroke-width="1.15"/>
<circle cx="341.1" cy="490.2" r="4.5" fill="#0c951c" stroke="#031003" stroke-width="1.15"/>
<circle cx="318" cy="523.1" r="7" fill="#0c951c" stroke="#031003" stroke-width="1.15"/>
<text x="245.8" y="371.6" class="ml" textLength="49.9" lengthAdjust="spacingAndGlyphs">Kohneh_Deh</text>
<text x="229.9" y="390.3" class="ml" textLength="61.7" lengthAdjust="spacingAndGlyphs">Ghareghoshlagh</text>
<text x="219" y="410.6" class="ml" textLength="67" lengthAdjust="spacingAndGlyphs">Arazi_Kosekahriz</text>
<text x="207.8" y="431" class="ml" textLength="54.7" lengthAdjust="spacingAndGlyphs">Kosheh_Kahriz</text>
<text x="290.8" y="433" class="ml" textLength="26" lengthAdjust="spacingAndGlyphs">Gapiss</text>
<text x="329.6" y="430.4" class="ml" textLength="38.8" lengthAdjust="spacingAndGlyphs">Gabazeleh</text>
<text x="370.3" y="425.1" class="ml" textLength="35.1" lengthAdjust="spacingAndGlyphs">Gargdooy</text>
<text x="325" y="461.2" class="ml" textLength="12.5" lengthAdjust="spacingAndGlyphs">Lej</text>
<text x="338.1" y="458.6" class="ml" textLength="63.1" lengthAdjust="spacingAndGlyphs">Serah_hajikhosh</text>
<text x="248.1" y="453.9" class="ml" textLength="67.3" lengthAdjust="spacingAndGlyphs">Seuh_ghezelgol</text>
<text x="291.8" y="464.7" class="ml" textLength="24.9" lengthAdjust="spacingAndGlyphs">Darlak</text>
<text x="238.1" y="469.6" class="ml" textLength="52.3" lengthAdjust="spacingAndGlyphs">Arazi_Darlak</text>
<text x="337.1" y="487.4" class="ml" textLength="39.4" lengthAdjust="spacingAndGlyphs">Gorgtapeh</text>
<text x="319.6" y="503.7" class="ml" textLength="43.8" lengthAdjust="spacingAndGlyphs">Fakhrighah</text>
<text x="265.3" y="506.6" class="ml" textLength="52.5" lengthAdjust="spacingAndGlyphs">Arazi_Daryaz</text>
<text x="299.4" y="538.7" class="ml" textLength="37.7" lengthAdjust="spacingAndGlyphs">Egheghash</text>
<text x="542.9" y="411.4" class="lg1" style="font-size:17px" textLength="54.6" lengthAdjust="spacingAndGlyphs">Legend</text>
<text x="500.1" y="439.6" class="lg2" textLength="140.5" lengthAdjust="spacingAndGlyphs">Water table drop (m)</text>
<text x="500.1" y="462" class="lg2" textLength="61" lengthAdjust="spacingAndGlyphs">scenario2</text>
<circle cx="516" cy="480.4" r="2.25" fill="#0c951c" stroke="#031003" stroke-width="1.15"/>
<text x="539.1" y="484.9" class="lg3" style="font-size:12px" textLength="56.6" lengthAdjust="spacingAndGlyphs">0.11 - 0.14</text>
<circle cx="516" cy="502.6" r="4.6" fill="#0c951c" stroke="#031003" stroke-width="1.15"/>
<text x="539.1" y="507" class="lg3" style="font-size:12px" textLength="56.6" lengthAdjust="spacingAndGlyphs">0.15 - 0.27</text>
<circle cx="516" cy="525.3" r="7.2" fill="#0c951c" stroke="#031003" stroke-width="1.15"/>
<text x="539.1" y="530.4" class="lg3" style="font-size:12px" textLength="56.6" lengthAdjust="spacingAndGlyphs">0.28 - 0.41</text>
<circle cx="516" cy="549.8" r="9.95" fill="#0c951c" stroke="#031003" stroke-width="1.15"/>
<text x="539.1" y="556" class="lg3" style="font-size:12px" textLength="56.6" lengthAdjust="spacingAndGlyphs">0.42 - 0.63</text>
<line x1="26.9" y1="609.1" x2="661.3" y2="609.1" stroke="#606060" stroke-width="1.4"/>
<line x1="27.6" y1="609.1" x2="27.6" y2="869.3" stroke="#222222" stroke-width="1.4"/>
<line x1="660.6" y1="609.1" x2="660.6" y2="869.3" stroke="#333333" stroke-width="1.4"/>
<line x1="26.9" y1="869.3" x2="661.3" y2="869.3" stroke="#404040" stroke-width="1.4"/>
<line x1="85.8" y1="603.5" x2="85.8" y2="609.1" stroke="#111" stroke-width="1.3"/>
<line x1="85.8" y1="869.3" x2="85.8" y2="874.9" stroke="#111" stroke-width="1.3"/>
<text x="72" y="600.4" class="cl">45</text>
<text x="83.2" y="597.9" class="cg">518093</text>
<text x="72" y="882.9" class="cl">45</text>
<text x="83.2" y="879" class="cg">518093</text>
<line x1="155" y1="603.5" x2="155" y2="609.1" stroke="#111" stroke-width="1.3"/>
<line x1="155" y1="869.3" x2="155" y2="874.9" stroke="#111" stroke-width="1.3"/>
<text x="141.2" y="600.4" class="cl">45</text>
<text x="152.4" y="597.9" class="cg">518093</text>
<text x="141.2" y="882.9" class="cl">45</text>
<text x="152.4" y="879" class="cg">518093</text>
<line x1="224.2" y1="603.5" x2="224.2" y2="609.1" stroke="#111" stroke-width="1.3"/>
<line x1="224.2" y1="869.3" x2="224.2" y2="874.9" stroke="#111" stroke-width="1.3"/>
<text x="210.4" y="600.4" class="cl">45</text>
<text x="221.6" y="597.9" class="cg">518093</text>
<text x="210.4" y="882.9" class="cl">45</text>
<text x="221.6" y="879" class="cg">518093</text>
<line x1="293.4" y1="603.5" x2="293.4" y2="609.1" stroke="#111" stroke-width="1.3"/>
<line x1="293.4" y1="869.3" x2="293.4" y2="874.9" stroke="#111" stroke-width="1.3"/>
<text x="279.6" y="600.4" class="cl">45</text>
<text x="290.8" y="597.9" class="cg">518093</text>
<text x="279.6" y="882.9" class="cl">45</text>
<text x="290.8" y="879" class="cg">518093</text>
<line x1="362.6" y1="603.5" x2="362.6" y2="609.1" stroke="#111" stroke-width="1.3"/>
<line x1="362.6" y1="869.3" x2="362.6" y2="874.9" stroke="#111" stroke-width="1.3"/>
<text x="348.8" y="600.4" class="cl">45</text>
<text x="360" y="597.9" class="cg">518093</text>
<text x="348.8" y="882.9" class="cl">45</text>
<text x="360" y="879" class="cg">518093</text>
<line x1="431.8" y1="603.5" x2="431.8" y2="609.1" stroke="#111" stroke-width="1.3"/>
<line x1="431.8" y1="869.3" x2="431.8" y2="874.9" stroke="#111" stroke-width="1.3"/>
<text x="418" y="600.4" class="cl">45</text>
<text x="429.2" y="597.9" class="cg">518093</text>
<text x="418" y="882.9" class="cl">45</text>
<text x="429.2" y="879" class="cg">518093</text>
<line x1="501" y1="603.5" x2="501" y2="609.1" stroke="#111" stroke-width="1.3"/>
<line x1="501" y1="869.3" x2="501" y2="874.9" stroke="#111" stroke-width="1.3"/>
<text x="487.2" y="600.4" class="cl">45</text>
<text x="498.4" y="597.9" class="cg">518093</text>
<text x="487.2" y="882.9" class="cl">45</text>
<text x="498.4" y="879" class="cg">518093</text>
<line x1="570.2" y1="603.5" x2="570.2" y2="609.1" stroke="#111" stroke-width="1.3"/>
<line x1="570.2" y1="869.3" x2="570.2" y2="874.9" stroke="#111" stroke-width="1.3"/>
<text x="556.4" y="600.4" class="cl">46</text>
<text x="567.6" y="597.9" class="cg">518093</text>
<text x="556.4" y="882.9" class="cl">46</text>
<text x="567.6" y="879" class="cg">518093</text>
<line x1="639.4" y1="603.5" x2="639.4" y2="609.1" stroke="#111" stroke-width="1.3"/>
<line x1="639.4" y1="869.3" x2="639.4" y2="874.9" stroke="#111" stroke-width="1.3"/>
<text x="625.6" y="600.4" class="cl">46</text>
<text x="636.8" y="597.9" class="cg">518093</text>
<text x="625.6" y="882.9" class="cl">46</text>
<text x="636.8" y="879" class="cg">518093</text>
<line x1="22" y1="638.9" x2="27.6" y2="638.9" stroke="#111" stroke-width="1.3"/>
<line x1="660.6" y1="638.9" x2="666.2" y2="638.9" stroke="#111" stroke-width="1.3"/>
<g transform="translate(19.2,638.9) rotate(-90)"><text x="-14.6" y="0" class="cl">37</text><text x="-3.6" y="-3.2" class="cg">076180</text></g>
<g transform="translate(675.2,638.9) rotate(-90)"><text x="-14.6" y="0" class="cl">37</text><text x="-3.6" y="-3.2" class="cg">076180</text></g>
<line x1="22" y1="690.85" x2="27.6" y2="690.85" stroke="#111" stroke-width="1.3"/>
<line x1="660.6" y1="690.85" x2="666.2" y2="690.85" stroke="#111" stroke-width="1.3"/>
<g transform="translate(19.2,690.85) rotate(-90)"><text x="-14.6" y="0" class="cl">36</text><text x="-3.6" y="-3.2" class="cg">076180</text></g>
<g transform="translate(675.2,690.85) rotate(-90)"><text x="-14.6" y="0" class="cl">36</text><text x="-3.6" y="-3.2" class="cg">076180</text></g>
<line x1="22" y1="742.8" x2="27.6" y2="742.8" stroke="#111" stroke-width="1.3"/>
<line x1="660.6" y1="742.8" x2="666.2" y2="742.8" stroke="#111" stroke-width="1.3"/>
<g transform="translate(19.2,742.8) rotate(-90)"><text x="-14.6" y="0" class="cl">36</text><text x="-3.6" y="-3.2" class="cg">076180</text></g>
<g transform="translate(675.2,742.8) rotate(-90)"><text x="-14.6" y="0" class="cl">36</text><text x="-3.6" y="-3.2" class="cg">076180</text></g>
<line x1="22" y1="794.75" x2="27.6" y2="794.75" stroke="#111" stroke-width="1.3"/>
<line x1="660.6" y1="794.75" x2="666.2" y2="794.75" stroke="#111" stroke-width="1.3"/>
<g transform="translate(19.2,794.75) rotate(-90)"><text x="-14.6" y="0" class="cl">36</text><text x="-3.6" y="-3.2" class="cg">076180</text></g>
<g transform="translate(675.2,794.75) rotate(-90)"><text x="-14.6" y="0" class="cl">36</text><text x="-3.6" y="-3.2" class="cg">076180</text></g>
<line x1="22" y1="846.7" x2="27.6" y2="846.7" stroke="#111" stroke-width="1.3"/>
<line x1="660.6" y1="846.7" x2="666.2" y2="846.7" stroke="#111" stroke-width="1.3"/>
<g transform="translate(19.2,846.7) rotate(-90)"><text x="-14.6" y="0" class="cl">36</text><text x="-3.6" y="-3.2" class="cg">076180</text></g>
<g transform="translate(675.2,846.7) rotate(-90)"><text x="-14.6" y="0" class="cl">36</text><text x="-3.6" y="-3.2" class="cg">076180</text></g>
<g stroke="#111" stroke-width="1.3" stroke-linecap="butt" fill="none">
<line x1="73.95" y1="620.4" x2="73.95" y2="631.6"/>
<line x1="81.55" y1="620.4" x2="81.55" y2="631.6"/>
<line x1="73.95" y1="620.7" x2="81.55" y2="631.3" stroke-width="1.5"/>
</g>
<path d="M77.3,635 L67.2,671.3 L77.3,658.4 Z" fill="#000"/>
<path d="M77.3,635 L88.2,671.3 L77.3,658.4 Z" fill="#fff" stroke="#000" stroke-width="1.1"/>
<rect x="37.3" y="838.7" width="174.2" height="7.4" fill="#fff" stroke="#000" stroke-width="1"/>
<rect x="37.3" y="838.7" width="10.89" height="7.4" fill="#000"/>
<rect x="59.07" y="838.7" width="10.89" height="7.4" fill="#000"/>
<rect x="80.85" y="838.7" width="43.55" height="7.4" fill="#000"/>
<rect x="167.95" y="838.7" width="43.55" height="7.4" fill="#000"/>
<text x="38.8" y="861.9" class="sbl" text-anchor="middle" style="font-size:14.2px">0</text>
<text x="59.07" y="861.9" class="sbl" text-anchor="middle" style="font-size:14.2px">2.5</text>
<text x="80.85" y="861.9" class="sbl" text-anchor="middle" style="font-size:14.2px">5</text>
<text x="124.4" y="861.9" class="sbl" text-anchor="middle" style="font-size:14.2px">10</text>
<text x="167.95" y="861.9" class="sbl" text-anchor="middle" style="font-size:14.2px">15</text>
<text x="211.5" y="861.9" class="sbl" text-anchor="middle" style="font-size:14.2px">20</text>
<text x="214.5" y="845.9" class="km" textLength="59" lengthAdjust="spacingAndGlyphs">Kilometers</text>
<path d="M240.2,617.5 C241.05,617.58 241.65,618.45 242,619.3 C242.35,620.15 241.98,622.03 242.4,622.8 C242.82,623.57 243.54,623.89 244.6,624.1 C245.66,624.31 247.59,623.83 249,624.1 C250.41,624.37 252.42,625.1 253.4,625.8 C254.38,626.5 254.41,627.83 255.1,628.5 C255.79,629.17 256.16,629.76 257.7,630 C259.24,630.24 262.81,629.65 264.7,630 C266.59,630.35 267.79,631.02 269.5,632.2 C271.21,633.38 273.7,635.82 275.4,637.4 C277.1,638.98 278.61,640.98 280.1,642.1 C281.59,643.22 283.21,644.11 284.7,644.4 C286.19,644.69 287.72,644.46 289.4,643.9 C291.08,643.34 293.15,641.46 295.2,640.9 C297.25,640.34 300.52,640.02 302.2,640.4 C303.88,640.78 304.95,642.1 305.7,643.3 C306.45,644.5 307.27,647.07 306.9,647.9 C306.53,648.73 304.23,648.02 303.4,648.5 C302.57,648.98 301.6,649.96 301.7,650.9 C301.8,651.84 303.36,652.72 304,654.4 C304.64,656.08 304.68,659.35 305.7,661.4 C306.72,663.45 308.34,665.33 310.4,667.2 C312.46,669.07 315.98,671.42 318.6,673.1 C321.22,674.78 324.56,676.68 326.8,677.7 C329.04,678.72 329.94,679.48 332.6,679.5 C335.26,679.52 340.18,678.17 343.4,677.8 C346.62,677.43 350.09,677.49 352.7,677.2 C355.31,676.91 357.46,675.82 359.7,676 C361.94,676.18 364.08,677.45 366.7,678.3 C369.32,679.15 373.67,681.01 376.1,681.3 C378.53,681.59 380.22,680.48 381.9,680.1 C383.58,679.72 384.92,678.8 386.6,678.9 C388.28,679 390.53,680.14 392.4,680.7 C394.27,681.26 396.81,682.06 398.3,682.4 C399.79,682.74 400.04,682.74 401.7,682.8 C403.36,682.86 406.46,683.09 408.7,682.8 C410.94,682.51 413.46,681.1 415.7,681 C417.94,680.9 420.64,682.1 422.7,682.2 C424.76,682.3 426.92,682.16 428.6,681.6 C430.28,681.04 431.52,678.8 433.2,678.7 C434.88,678.6 437.42,680.07 439.1,681 C440.78,681.93 442.4,683.09 443.7,684.5 C445,685.91 445.89,688.39 447.2,689.8 C448.51,691.21 450.03,692.37 451.9,693.3 C453.77,694.23 457.03,694.77 458.9,695.6 C460.77,696.43 462.58,696.92 463.6,698.5 C464.62,700.08 464.55,703.26 465.3,705.5 C466.05,707.74 466.89,710.44 468.3,712.5 C469.71,714.56 472.52,716.8 474.1,718.4 C475.68,720 477.83,721.48 478.2,722.5 C478.57,723.52 477.81,724.14 476.4,724.8 C474.99,725.46 471.82,725.85 469.4,726.6 C466.98,727.35 463.35,729.13 461.3,729.5 C459.25,729.87 458.47,729.46 456.6,728.9 C454.73,728.34 451.47,727.02 449.6,726 C447.73,724.98 445.92,723.91 444.9,722.5 C443.88,721.09 444.13,718.98 443.2,717.2 C442.27,715.42 440.7,712.89 439.1,711.4 C437.5,709.91 435.07,708.84 433.2,707.9 C431.33,706.96 429.26,706.44 427.4,705.5 C425.54,704.56 423.66,702.93 421.6,702 C419.54,701.07 416.76,700.36 414.5,699.7 C412.24,699.04 409.55,697.77 407.5,697.9 C405.45,698.03 403.17,699.33 401.7,700.5 C400.23,701.67 399.23,703.33 398.3,705.2 C397.37,707.07 396.84,710.89 395.9,712.2 C394.96,713.51 393.89,713.21 392.4,713.4 C390.91,713.59 388.47,713.4 386.6,713.4 C384.73,713.4 382.57,713.22 380.7,713.4 C378.83,713.58 376.76,713.57 374.9,714.5 C373.04,715.43 370.59,717.89 369.1,719.2 C367.61,720.51 366.35,721.2 365.6,722.7 C364.85,724.2 364.22,726.73 364.4,728.6 C364.58,730.47 365.53,733.04 366.7,734.4 C367.87,735.76 370.2,736.24 371.7,737.1 C373.2,737.96 374.69,739.02 376.1,739.8 C377.51,740.58 378.68,741.44 380.5,742 C382.32,742.56 385.26,742.96 387.5,743.3 C389.74,743.64 392.55,743.68 394.5,744.1 C396.45,744.52 398.37,745.34 399.7,745.9 C401.03,746.46 402.51,746.83 402.8,747.6 C403.09,748.37 402.41,749.85 401.5,750.7 C400.59,751.55 398.92,752.26 397.1,752.9 C395.28,753.54 392.34,753.72 390.1,754.7 C387.86,755.68 385.2,757.61 383.1,759 C381,760.39 378.26,761.99 377,763.4 C375.74,764.81 375.07,766.39 375.2,767.8 C375.33,769.21 376.39,771.08 377.8,772.2 C379.21,773.32 382.7,773.95 384,774.8 C385.3,775.65 385.77,776.32 385.9,777.5 C386.03,778.68 386.11,781.26 384.8,782.2 C383.49,783.14 379.96,783.03 377.7,783.4 C375.44,783.77 372.56,783.75 370.7,784.5 C368.84,785.25 367.03,786.79 366.1,788.1 C365.17,789.41 366.02,791.58 364.9,792.7 C363.78,793.82 360.78,794.54 359.1,795.1 C357.42,795.66 355.9,795.46 354.4,796.2 C352.9,796.94 350.82,798.21 349.7,799.7 C348.58,801.19 348.1,804.03 347.4,805.5 C346.7,806.97 345.83,807.24 345.3,808.9 C344.77,810.56 344.85,814.04 344.1,815.9 C343.35,817.76 341.91,819.38 340.6,820.5 C339.29,821.62 337.39,822.9 335.9,822.9 C334.41,822.9 332.79,820.88 331.3,820.5 C329.81,820.12 327.91,820.12 326.6,820.5 C325.29,820.88 324.6,822.42 323.1,822.9 C321.6,823.38 318.88,823.13 317.2,823.5 C315.52,823.87 313.62,824.18 312.6,825.2 C311.58,826.22 311.18,828.22 310.8,829.9 C310.42,831.58 310.66,833.83 310.2,835.7 C309.74,837.57 308.46,839.73 307.9,841.6 C307.34,843.47 307.26,845.54 306.7,847.4 C306.14,849.26 305.33,851.52 304.4,853.2 C303.47,854.88 302.02,856.78 300.9,857.9 C299.78,859.02 298.71,860.1 297.4,860.2 C296.09,860.3 293.92,859.62 292.7,858.5 C291.48,857.38 289.8,854.98 289.8,853.2 C289.8,851.42 291.68,848.89 292.7,847.4 C293.72,845.91 295.82,844.65 296.2,843.9 C296.58,843.15 296.59,843.26 295.1,842.7 C293.61,842.14 289.16,841.33 286.9,840.4 C284.64,839.47 282.12,838.58 281,836.9 C279.88,835.22 280.14,831.92 279.9,829.9 C279.66,827.88 279.32,825.79 279.5,824.3 C279.68,822.81 280.52,821.88 281,820.6 C281.48,819.32 282.5,817.47 282.5,816.3 C282.5,815.13 282.06,814.12 281,813.3 C279.94,812.48 277.31,811.78 275.9,811.2 C274.49,810.62 272.44,810.4 272.2,809.7 C271.96,809 273.57,807.62 274.4,806.8 C275.23,805.98 275.99,805.06 277.4,804.6 C278.81,804.14 281.1,804.14 283.2,803.9 C285.3,803.66 288.98,803.8 290.5,803.1 C292.02,802.4 292.46,800.89 292.7,799.5 C292.94,798.11 292.59,795.81 292,794.4 C291.41,792.99 290.52,791.76 289,790.7 C287.48,789.64 284.24,788.86 282.5,787.8 C280.76,786.74 278.92,785.27 278.1,784.1 C277.28,782.93 277.93,781.65 277.4,780.5 C276.87,779.35 275.78,778.23 274.8,776.9 C273.82,775.57 272.24,774.07 271.3,772.2 C270.36,770.33 270.21,767.25 268.9,765.2 C267.59,763.15 264.49,761.45 263.1,759.4 C261.71,757.35 260.58,754.64 260.2,752.4 C259.82,750.16 260.04,747.83 260.7,745.4 C261.36,742.97 263.08,739.63 264.3,737.2 C265.52,734.77 267.93,731.88 268.3,730.2 C268.67,728.52 267.82,727.45 266.6,726.7 C265.38,725.95 262.94,725.32 260.7,725.5 C258.46,725.68 255.58,727.24 252.6,727.8 C249.62,728.36 244.74,728.73 242.1,729 C239.46,729.27 237.99,729.24 236.1,729.5 C234.21,729.76 232.17,730.02 230.3,730.6 C228.43,731.18 226.27,732.24 224.4,733.1 C222.53,733.96 220.46,735.36 218.6,736 C216.74,736.64 214.43,736.97 212.8,737.1 C211.17,737.23 209.1,737.44 208.4,736.8 C207.7,736.16 207.94,734.62 208.4,733.1 C208.86,731.58 210.37,729.4 211.3,727.3 C212.23,725.2 213.38,722.69 214.2,720 C215.02,717.31 215.76,712.68 216.4,710.5 C217.04,708.32 217.43,708.37 218.2,706.4 C218.97,704.43 220.38,700.66 221.2,698.2 C222.02,695.74 223.04,693.03 223.3,691 C223.56,688.97 222.93,688.11 222.8,685.5 C222.67,682.89 222.4,676.99 222.5,674.7 C222.6,672.41 222.79,672.22 223.4,671.2 C224.01,670.18 226.03,669.15 226.3,668.3 C226.57,667.45 225.42,666.65 225.1,665.9 C224.78,665.15 224.01,664.34 224.3,663.6 C224.59,662.86 225.65,662.15 226.9,661.3 C228.15,660.45 230.32,659.15 232.1,658.3 C233.88,657.45 236.69,656.74 238,656 C239.31,655.26 240.03,654.63 240.3,653.7 C240.57,652.77 240.16,651.14 239.7,650.2 C239.24,649.26 237.8,649.26 237.4,647.8 C237,646.34 237.44,643.15 237.2,641.1 C236.96,639.05 236.25,637.1 235.9,635 C235.55,632.9 235.14,630.24 235,628 C234.86,625.76 234.73,622.47 235,621 C235.27,619.53 235.87,619.36 236.7,618.8 C237.53,618.24 239.35,617.42 240.2,617.5Z" fill="none" stroke="#000" stroke-width="2.2" stroke-linejoin="round"/>
<circle cx="271.1" cy="651" r="4.4" fill="#0c951c" stroke="#031003" stroke-width="1.15"/>
<circle cx="261.1" cy="666.8" r="6.9" fill="#0c951c" stroke="#031003" stroke-width="1.15"/>
<circle cx="253.4" cy="685.4" r="6.9" fill="#0c951c" stroke="#031003" stroke-width="1.15"/>
<circle cx="236.2" cy="710.7" r="4.4" fill="#0c951c" stroke="#031003" stroke-width="1.15"/>
<circle cx="281.1" cy="702.6" r="9.75" fill="#0c951c" stroke="#031003" stroke-width="1.15"/>
<circle cx="286.7" cy="712.4" r="9.75" fill="#0c951c" stroke="#031003" stroke-width="1.15"/>
<circle cx="303.9" cy="705.8" r="9.75" fill="#0c951c" stroke="#031003" stroke-width="1.15"/>
<circle cx="282.3" cy="729.8" r="6.9" fill="#0c951c" stroke="#031003" stroke-width="1.15"/>
<circle cx="291.3" cy="740.8" r="6.9" fill="#0c951c" stroke="#031003" stroke-width="1.15"/>
<circle cx="292.3" cy="745.1" r="6.9" fill="#0c951c" stroke="#031003" stroke-width="1.15"/>
<circle cx="304.7" cy="740.5" r="6.9" fill="#0c951c" stroke="#031003" stroke-width="1.15"/>
<circle cx="355" cy="696.3" r="9.75" fill="#0c951c" stroke="#031003" stroke-width="1.15"/>
<circle cx="355.1" cy="709.3" r="4.4" fill="#0c951c" stroke="#031003" stroke-width="1.15"/>
<circle cx="388.3" cy="704" r="4.4" fill="#0c951c" stroke="#031003" stroke-width="1.15"/>
<circle cx="331.6" cy="741.1" r="4.4" fill="#0c951c" stroke="#031003" stroke-width="1.15"/>
<circle cx="352.7" cy="741.5" r="2" fill="#0c951c" stroke="#031003" stroke-width="1.15"/>
<circle cx="339.2" cy="761.5" r="2" fill="#0c951c" stroke="#031003" stroke-width="1.15"/>
<circle cx="343.6" cy="763.7" r="2" fill="#0c951c" stroke="#031003" stroke-width="1.15"/>
<circle cx="357.6" cy="766.6" r="4.4" fill="#0c951c" stroke="#031003" stroke-width="1.15"/>
<circle cx="304.3" cy="779.8" r="9.75" fill="#0c951c" stroke="#031003" stroke-width="1.15"/>
<circle cx="321.4" cy="780.3" r="6.9" fill="#0c951c" stroke="#031003" stroke-width="1.15"/>
<circle cx="342" cy="782.2" r="2" fill="#0c951c" stroke="#031003" stroke-width="1.15"/>
<circle cx="318.9" cy="815.1" r="6.9" fill="#0c951c" stroke="#031003" stroke-width="1.15"/>
<text x="247.2" y="664" class="ml" textLength="48.5" lengthAdjust="spacingAndGlyphs">Kohneh_Deh</text>
<text x="230.6" y="681.9" class="ml" textLength="61.2" lengthAdjust="spacingAndGlyphs">Ghareghoshlagh</text>
<text x="219.3" y="700.5" class="ml" textLength="66.7" lengthAdjust="spacingAndGlyphs">Arazi_Kosekahriz</text>
<text x="208.7" y="723.2" class="ml" textLength="56.1" lengthAdjust="spacingAndGlyphs">Kosheh_Kahriz</text>
<text x="292" y="723.7" class="ml" textLength="25.3" lengthAdjust="spacingAndGlyphs">Gapiss</text>
<text x="331.1" y="722.8" class="ml" textLength="37.4" lengthAdjust="spacingAndGlyphs">Gabazeleh</text>
<text x="371.4" y="717.5" class="ml" textLength="35.1" lengthAdjust="spacingAndGlyphs">Gargdooy</text>
<text x="325.8" y="753.7" class="ml" textLength="12.3" lengthAdjust="spacingAndGlyphs">Lej</text>
<text x="339.1" y="751.2" class="ml" textLength="62.6" lengthAdjust="spacingAndGlyphs">Serah_hajikhosh</text>
<text x="249.7" y="745.9" class="ml" textLength="67" lengthAdjust="spacingAndGlyphs">Seuh_ghezelgol</text>
<text x="292.4" y="756.7" class="ml" textLength="25" lengthAdjust="spacingAndGlyphs">Darlak</text>
<text x="239.5" y="761.6" class="ml" textLength="52.3" lengthAdjust="spacingAndGlyphs">Arazi_Darlak</text>
<text x="338" y="779.4" class="ml" textLength="39.4" lengthAdjust="spacingAndGlyphs">Gorgtapeh</text>
<text x="320.4" y="793" class="ml" textLength="43" lengthAdjust="spacingAndGlyphs">Fakhrighah</text>
<text x="267" y="798.3" class="ml" textLength="52.6" lengthAdjust="spacingAndGlyphs">Arazi_Daryaz</text>
<text x="300.3" y="831.2" class="ml" textLength="37.7" lengthAdjust="spacingAndGlyphs">Egheghash</text>
<text x="542.1" y="691" class="lg1" style="font-size:16.6px" textLength="54.1" lengthAdjust="spacingAndGlyphs">Legend</text>
<text x="498.5" y="720.3" class="lg2" textLength="140.5" lengthAdjust="spacingAndGlyphs">Water table drop (m)</text>
<text x="498.5" y="742.8" class="lg2" textLength="61" lengthAdjust="spacingAndGlyphs">scenario3</text>
<circle cx="515" cy="760.1" r="1.9" fill="#0c951c" stroke="#031003" stroke-width="1.15"/>
<text x="537.7" y="765.1" class="lg3" style="font-size:12px" textLength="57.3" lengthAdjust="spacingAndGlyphs">0.23 - 0.29</text>
<circle cx="515" cy="782.5" r="4.2" fill="#0c951c" stroke="#031003" stroke-width="1.15"/>
<text x="537.7" y="787.8" class="lg3" style="font-size:12px" textLength="57.3" lengthAdjust="spacingAndGlyphs">0.30 - 0.46</text>
<circle cx="515" cy="805.2" r="7.2" fill="#0c951c" stroke="#031003" stroke-width="1.15"/>
<text x="537.7" y="810.7" class="lg3" style="font-size:12px" textLength="57.3" lengthAdjust="spacingAndGlyphs">0.47 - 0.73</text>
<circle cx="515" cy="830.8" r="9.95" fill="#0c951c" stroke="#031003" stroke-width="1.15"/>
<text x="537.7" y="835.4" class="lg3" style="font-size:12px" textLength="57.3" lengthAdjust="spacingAndGlyphs">0.74 - 0.94</text>
</svg>
</body></html>
